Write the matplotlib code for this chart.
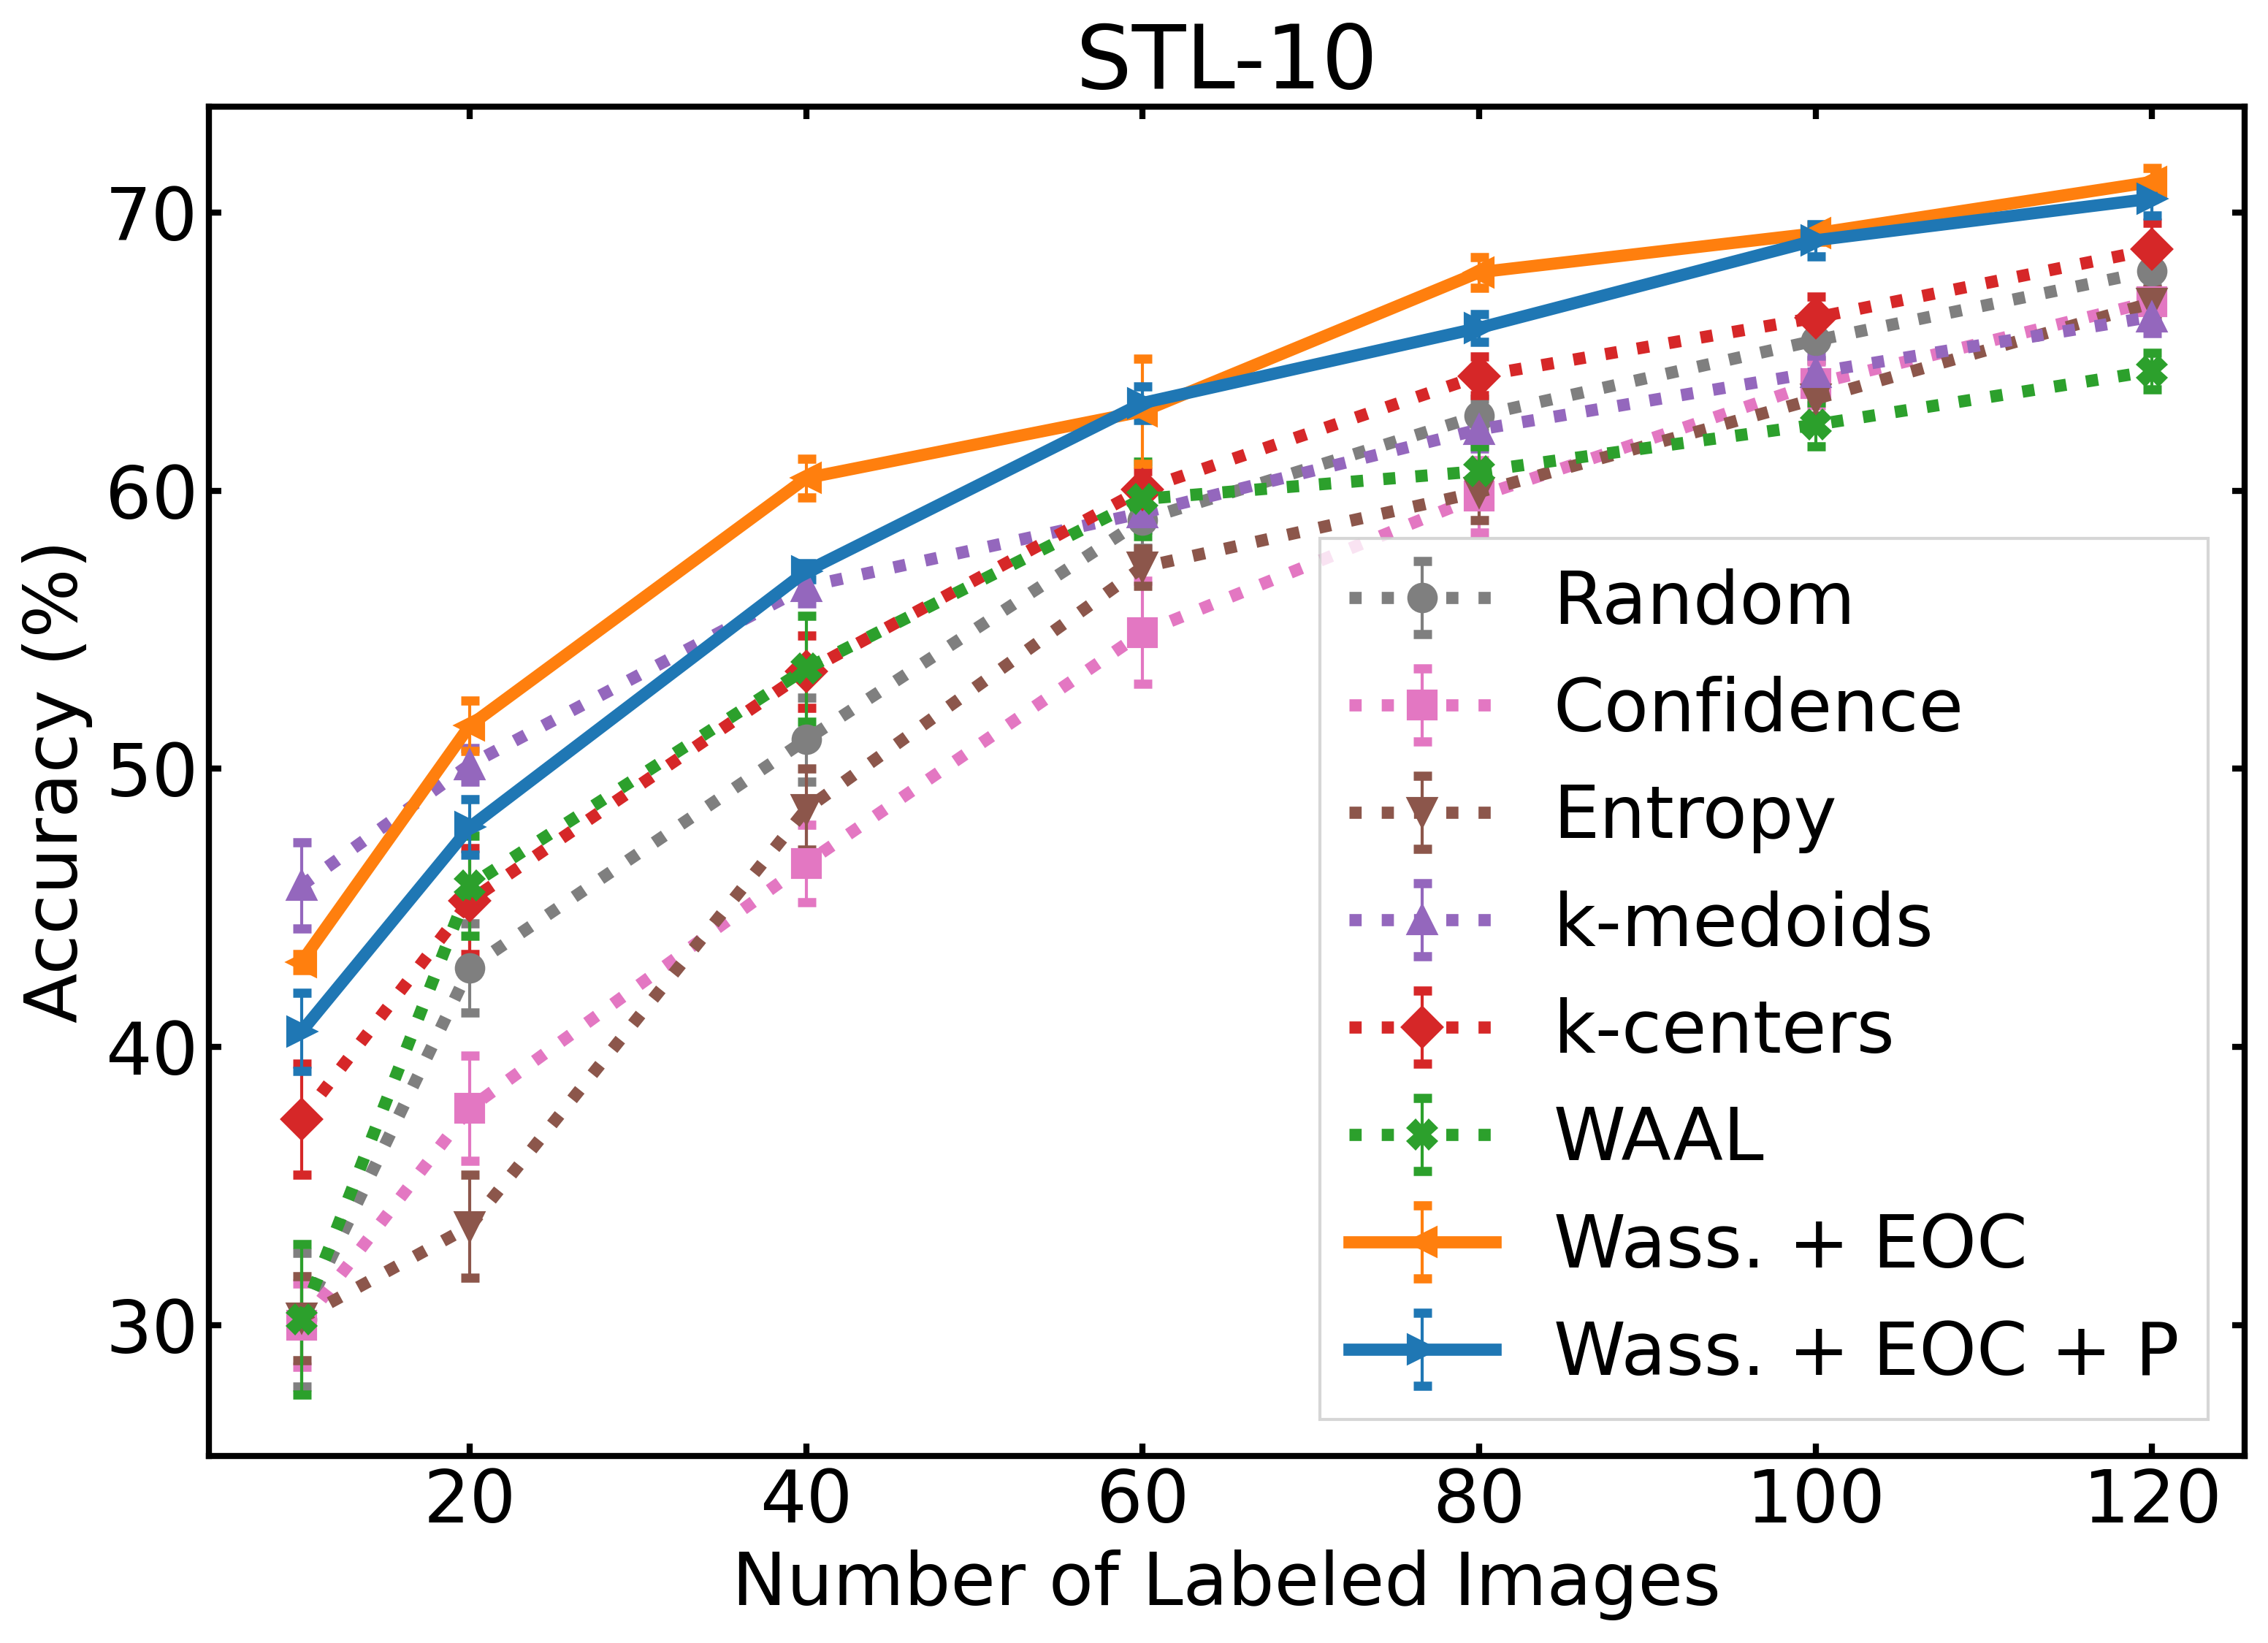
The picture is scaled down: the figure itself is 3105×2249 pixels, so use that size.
import matplotlib
matplotlib.use("Agg")
import matplotlib.pyplot as plt

# number of labeled images
x = [10, 20, 40, 60, 80, 100, 120]

random_mean = [30.2, 42.85, 51.05, 58.95, 62.7, 65.4, 67.9]
random_std = [2.4, 1.6, 1.5, 1.0, 0.6, 0.7, 0.6]
conf_mean = [30.0, 37.8, 46.6, 54.9, 59.8, 63.85, 66.8]
conf_std = [1.5, 1.9, 1.4, 1.85, 1.3, 0.8, 0.4]
entropy_mean = [30.25, 33.55, 48.55, 57.25, 59.95, 63.3, 66.75]
entropy_std = [1.5, 1.85, 1.45, 0.67, 1.0, 0.6, 0.5]
kmed_mean = [45.8, 50.15, 56.55, 59.2, 62.2, 64.25, 66.25]
kmed_std = [1.55, 0.6, 0.6, 0.6, 0.7, 0.6, 0.6]
kcen_mean = [37.4, 45.25, 53.5, 60.05, 64.12, 66.22, 68.67]
kcen_std = [2.0, 1.9, 1.3, 0.66, 0.7, 0.76, 0.96]
waal_mean = [30.2, 45.8, 53.6, 59.7, 60.7, 62.37, 64.3]
waal_std = [2.7, 1.8, 1.9, 1.35, 0.9, 0.79, 0.65]
eoc_mean = [43.05, 51.55, 60.45, 62.85, 67.85, 69.25, 71.1]
eoc_std = [0.3, 0.9, 0.7, 1.88, 0.55, 0.3, 0.5]
eocp_mean = [40.55, 47.9, 57.1, 63.15, 65.85, 69.0, 70.5]
eocp_std = [1.4, 1.0, 0.3, 0.6, 0.5, 0.57, 0.6]

labels = ["Random", "Confidence", "Entropy", "k-medoids", "k-centers", "WAAL",
          "Wass. + EOC", "Wass. + EOC + P"]
means = [random_mean, conf_mean, entropy_mean, kmed_mean, kcen_mean, waal_mean,
         eoc_mean, eocp_mean]
stds = [random_std, conf_std, entropy_std, kmed_std, kcen_std, waal_std,
        eoc_std, eocp_std]
colors = ["tab:gray", "tab:pink", "tab:brown", "tab:purple", "tab:red",
          "tab:green", "tab:orange", "tab:blue"]
markers = ["o", "s", "v", "^", "D", "X", "<", ">"]
styles = [":", ":", ":", ":", ":", ":", "-", "-"]

fig = plt.figure(figsize=(10.35, 7.4967), dpi=300)
ax = fig.add_subplot(111)
fig.subplots_adjust(left=0.0921, right=0.9897, bottom=0.1138, top=0.9351)

for i in range(len(labels)):
    ax.errorbar(x, means[i], yerr=stds[i], label=labels[i], color=colors[i],
                marker=markers[i], linestyle=styles[i], linewidth=4,
                markersize=9, elinewidth=1.0, capsize=3, capthick=3)

ax.set_title("STL-10", fontsize=29)
ax.set_xlabel("Number of Labeled Images", fontsize=24)
ax.set_ylabel("Accuracy (%)", fontsize=24)
ax.tick_params(axis="both", which="major", direction="in", top=True, right=True,
               labelsize=24, length=4, width=2)
for s in ax.spines.values():
    s.set_linewidth(2)

leg = ax.legend(loc="lower right", fontsize=24, fancybox=False)
leg.get_frame().set_edgecolor("0.8")

plt.savefig("out.png", dpi=300)
